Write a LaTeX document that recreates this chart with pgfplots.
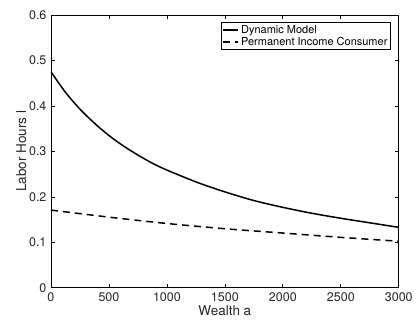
\documentclass[border=0pt]{standalone}
\usepackage{fontspec}
\setmainfont{TeX Gyre Heros}
\usepackage{pgfplots}
\pgfplotsset{compat=1.18}
\begin{document}
\begin{tikzpicture}
\begin{axis}[
  scale only axis,
  width=348pt, height=273pt,
  xmin=0, xmax=3000, ymin=0, ymax=0.6,
  xtick={0,500,...,3000},
  ytick={0,0.1,...,0.6},
  yticklabel style={/pgf/number format/fixed,/pgf/number format/precision=1},
  scaled x ticks=false,
  /pgf/number format/assume math mode=true,
  /pgf/number format/1000 sep={},
  tick align=inside,
  major tick length=4pt,
  tick style={black, line width=0.7pt},
  axis line style={line width=0.8pt},
  ticklabel style={font=\fontsize{12.5}{14}\selectfont, text=black!85},
  xticklabel style={yshift=-1pt},
  yticklabel style={xshift=-1pt},
  xlabel={Wealth a}, ylabel={Labor Hours l},
  label style={font=\fontsize{13.5}{16}\selectfont, text=black!85},
  xlabel style={yshift=3pt},
  ylabel style={yshift=-4pt},
  legend style={at={(rel axis cs:0.977,0.974)}, anchor=north east,
    font=\fontsize{11}{13}\selectfont, draw=black, line width=0.7pt,
    inner sep=1pt, row sep=-2pt, cells={anchor=west}},
  legend image post style={line width=1.4pt},
  legend image code/.code={\draw[#1] (0cm,0cm) -- (0.55cm,0cm);},
]
\addplot[black, line width=1.5pt, smooth] coordinates {
(0,0.475) (125,0.430) (250,0.393) (375,0.362) (500,0.335) (625,0.312) (750,0.292)
(875,0.274) (1000,0.259) (1250,0.233) (1500,0.211) (1750,0.192) (2000,0.177)
(2250,0.164) (2500,0.153) (2750,0.143) (3000,0.133)};
\addlegendentry{Dynamic Model}
\addplot[black, line width=1.5pt, dash pattern=on 7pt off 5pt, smooth] coordinates {
(0,0.171) (500,0.1555) (1000,0.1415) (1500,0.130) (2000,0.1205) (2500,0.111) (3000,0.1025)};
\addlegendentry{Permanent Income Consumer}
\end{axis}
\path ([shift={(-51pt,-35pt)}]current axis.south west) rectangle ([shift={(17pt,15pt)}]current axis.north east);
\end{tikzpicture}
\end{document}
